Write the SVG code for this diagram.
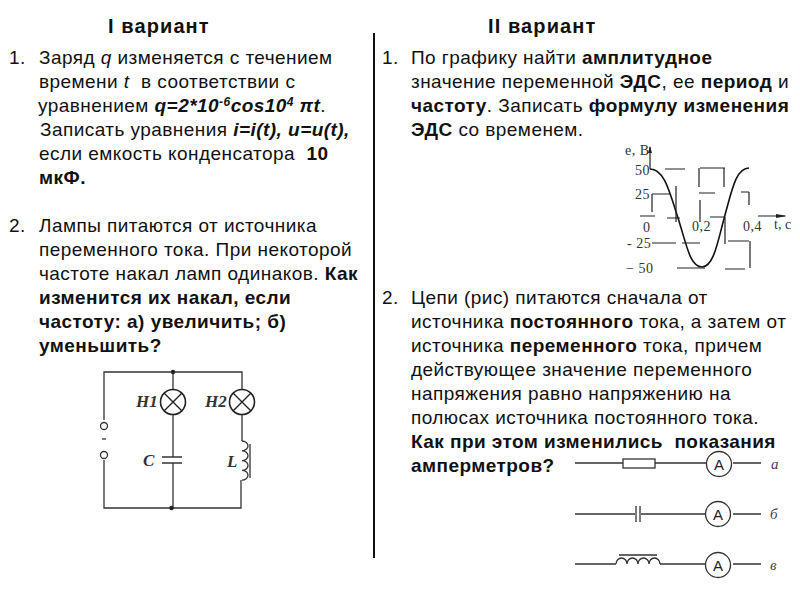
<svg xmlns="http://www.w3.org/2000/svg" width="800" height="600" viewBox="0 0 800 600">
<style>
text{font-family:"Liberation Sans",Arial,sans-serif;font-size:19px;letter-spacing:.45px;fill:#111}
.h{font-size:20px;font-weight:bold;letter-spacing:1.1px}
.b{font-weight:bold}
.i{font-style:italic}
.w{fill:none;stroke:#333;stroke-width:1.3}
.g{fill:none;stroke:#222;stroke-width:1.2}
.s{font-family:"Liberation Serif",serif;font-size:14px;letter-spacing:.5px;fill:#333}
.l{font-family:"Liberation Serif",serif;font-size:17px;letter-spacing:0;font-style:italic;font-weight:bold;fill:#333}
.t{font-family:"Liberation Serif",serif;font-size:15px;letter-spacing:0;font-style:italic;fill:#444}
.a{font-size:15px;letter-spacing:0;text-anchor:middle;fill:#222}
</style>
<rect width="800" height="600" fill="#fff"/>
<rect x="373" y="33" width="2" height="525" fill="#111"/>
<g id="variant1">
<text class="h" x="108" y="33">I вариант</text>
<text x="9" y="64">1.</text>
<text x="39" y="64">Заряд <tspan class="i">q</tspan> изменяется с течением</text>
<text x="39" y="88">времени <tspan class="i">t</tspan>&#160; в соответствии с</text>
<text x="38" y="112">уравнением <tspan class="b i">q=2*10<tspan font-size="12" dy="-6">-6</tspan><tspan dy="6">cos10</tspan><tspan font-size="12" dy="-6">4</tspan><tspan dy="6"> πt</tspan></tspan>.</text>
<text x="40" y="136">Записать уравнения <tspan class="b i">i=i(t), u=u(t),</tspan></text>
<text x="39" y="160">если емкость конденсатора&#160; <tspan class="b">10</tspan></text>
<text class="b" x="39" y="184">мкФ.</text>
<text x="9" y="232">2.</text>
<text x="39" y="232">Лампы питаются от источника</text>
<text x="39" y="256">переменного тока. При некоторой</text>
<text x="39" y="280">частоте накал ламп одинаков. <tspan class="b">Как</tspan></text>
<text class="b" x="39" y="304">изменится их накал, если</text>
<text class="b" x="39" y="328">частоту: а) увеличить; б)</text>
<text class="b" x="39" y="352">уменьшить?</text>
</g>
<g id="variant2">
<text class="h" x="488" y="33">II вариант</text>
<text x="382" y="64">1.</text>
<text x="411" y="64">По графику найти <tspan class="b">амплитудное</tspan></text>
<text x="411" y="88">значение переменной <tspan class="b">ЭДС</tspan>, ее <tspan class="b">период</tspan> и</text>
<text x="411" y="112"><tspan class="b">частоту</tspan>. Записать <tspan class="b">формулу изменения</tspan></text>
<text x="411" y="136"><tspan class="b">ЭДС</tspan> со временем.</text>
<text x="382" y="304">2.</text>
<text x="411" y="304">Цепи (рис) питаются сначала от</text>
<text x="411" y="328">источника <tspan class="b">постоянного</tspan> тока, а затем от</text>
<text x="411" y="352">источника <tspan class="b">переменного</tspan> тока, причем</text>
<text x="411" y="376">действующее значение переменного</text>
<text x="411" y="400">напряжения равно напряжению на</text>
<text x="411" y="424">полюсах источника постоянного тока.</text>
<text class="b" x="411" y="448">Как при этом изменились&#160; показания</text>
<text class="b" x="411" y="472">амперметров?</text>
</g>
<g id="circuit-lamps">
<path class="w" d="M104 420V372H242V390M173 372V390M173 415V457M173 463V508M104 460V508H241V480M242 415V441M162 457H182M162 463H182M250 444V478"/>
<path class="w" d="M242 441a6 4.900 0 0 1 0 9.800a6 4.900 0 0 1 0 9.800a6 4.900 0 0 1 0 9.800a6 4.900 0 0 1 0 9.800"/>
<circle class="w" cx="104" cy="426" r="3.500"/><circle class="w" cx="104" cy="455" r="3.500"/>
<path class="w" d="M102 439h4"/>
<circle cx="173" cy="372" r="2.200" fill="#222"/><circle cx="171.500" cy="508" r="2.200" fill="#222"/>
<circle cx="173" cy="402" r="12.500" fill="none" stroke="#222" stroke-width="1.600"/><path d="M164 393l18 18M182 393l-18 18" fill="none" stroke="#222" stroke-width="1.400"/>
<circle cx="242" cy="402" r="12.500" fill="none" stroke="#222" stroke-width="1.600"/><path d="M233 393l18 18M251 393l-18 18" fill="none" stroke="#222" stroke-width="1.400"/>
<text class="l" x="136" y="407">H1</text><text class="l" x="205" y="407">H2</text><text class="l" x="143" y="466">C</text><text class="l" x="227" y="467">L</text>
</g>
<g id="graph">
<path d="M650 169C664 169 669 190 678 218S690 267 702 267S718 240 725 215S736 168 749 168" fill="none" stroke="#111" stroke-width="1.600"/>
<path class="g" d="M650 169V147M665 169H685M700 168H725M699 168V187M724 168V187M699 193H715M700 200V222M741 192H749M749 192V205M676 186V222M652 194H670M652 194V212M667 218H680M710 217H724M725 217V244M640 216H655M652 243H676M682 243H700M728 241H749M750 241V268M677 268H705M725 269H745M758 216H785"/>
<path d="M787 216L776 214V218Z" fill="#222"/><path d="M650 146l-2 7h4z" fill="#222"/>
<text class="s" x="625" y="155">е, В</text><text class="s" x="635" y="175">50</text><text class="s" x="635" y="199">25</text><text class="s" x="643" y="232">0</text><text class="s" x="627" y="248">- 25</text><text class="s" x="626" y="273">− 50</text><text class="s" x="692" y="231">0,2</text><text class="s" x="743" y="231">0,4</text><text class="s" x="774" y="229" font-size="12" style="letter-spacing:0">t, c</text>
</g>
<g id="circuit-a">
<path class="w" d="M575 463H623M655 463H706M733 463H761"/><rect class="w" x="623" y="459" width="32" height="9"/><circle class="w" cx="719" cy="464" r="12.500"/><text class="a" x="719" y="469.500">A</text><text class="t" x="771" y="469">а</text>
</g>
<g id="circuit-b">
<path class="w" d="M575 514H635M641 514H705M733 514H761M636 506V522M640 506V522"/><circle class="w" cx="718" cy="514" r="12.500"/><text class="a" x="718" y="519.500">A</text><text class="t" x="770" y="519">б</text>
</g>
<g id="circuit-c">
<path class="w" d="M575 564H616M660 564H706M733 564H761M619 555H657"/>
<path class="w" d="M616 564a5.500 6 0 0 1 11 0a5.500 6 0 0 1 11 0a5.500 6 0 0 1 11 0a5.500 6 0 0 1 11 0"/><circle class="w" cx="718" cy="565" r="12.500"/><text class="a" x="718" y="570.500">A</text><text class="t" x="770" y="570">в</text>
</g>
</svg>
